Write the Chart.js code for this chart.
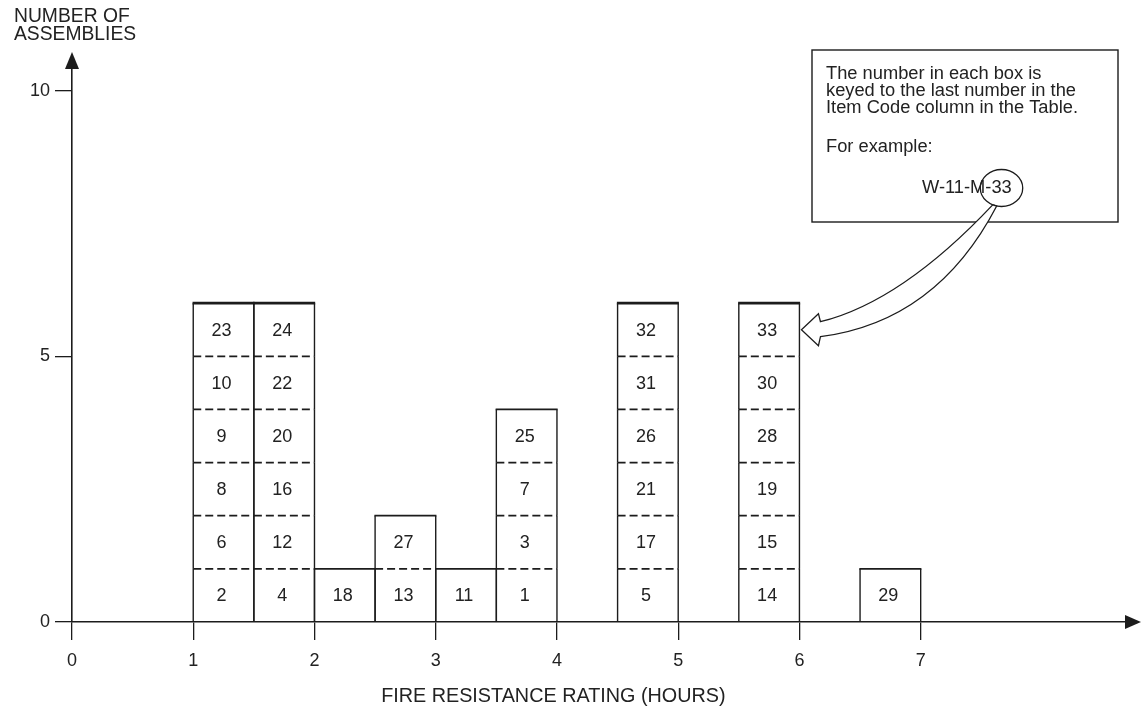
<!DOCTYPE html>
<html>
<head>
<meta charset="utf-8">
<script src="https://cdn.jsdelivr.net/npm/chart.js@4.4.1/dist/chart.umd.min.js"></script>
<style>
  html, body { margin: 0; padding: 0; background: #ffffff; }
  #wrap { width: 1141px; height: 711px; position: relative; }
</style>
</head>
<body>
<div id="wrap"><canvas id="c" width="1141" height="711"></canvas></div>
<script>
// ---- data ----
const binStarts = [1, 1.5, 2, 2.5, 3, 3.5, 4.5, 5.5, 6.5];
const binWidth = 0.5;
const itemCodes = [
  [2, 6, 8, 9, 10, 23],
  [4, 12, 16, 20, 22, 24],
  [18],
  [13, 27],
  [11],
  [1, 3, 7, 25],
  [5, 17, 21, 26, 31, 32],
  [14, 15, 19, 28, 30, 33],
  [29]
];
const xTickValues = [0, 1, 2, 3, 4, 5, 6, 7];
const yTickValues = [0, 5, 10];
const xTitle = 'FIRE RESISTANCE RATING (HOURS)';
const yTitle = ['NUMBER OF', 'ASSEMBLIES'];
const noteLines = ['The number in each box is', 'keyed to the last number in the', 'Item Code column in the Table.'];
const noteExampleLabel = 'For example:';
const noteExamplePrefix = 'W-11-M';
const noteExampleSuffix = '-33';
const pointedCode = 33;

// ---- build datasets (one per stack level) ----
const FONT = '"Liberation Sans", Arial, Helvetica, sans-serif';
const INK = '#1c1c1c';
const maxLevels = Math.max(...itemCodes.map(c => c.length));
const datasets = [];
for (let L = 0; L < maxLevels; L++) {
  const data = [];
  binStarts.forEach((s, i) => {
    const codes = itemCodes[i];
    if (codes.length > L) {
      data.push({ x: s + binWidth / 2, y: 1, code: codes[L], level: L, top: L === codes.length - 1, height: codes.length });
    }
  });
  datasets.push({
    label: 'level ' + (L + 1),
    data,
    backgroundColor: 'rgba(255,255,255,0)',
    borderWidth: 0,
    stack: 'assemblies',
    categoryPercentage: 1,
    barPercentage: 1
  });
}

function seg(ctx, x1, y1, x2, y2) {
  ctx.beginPath(); ctx.moveTo(x1, y1); ctx.lineTo(x2, y2); ctx.stroke();
}

const boxPlugin = {
  id: 'boxes',
  afterDatasetsDraw(chart) {
    const ctx = chart.ctx;
    ctx.save();
    ctx.strokeStyle = INK;
    chart.data.datasets.forEach((ds, di) => {
      const meta = chart.getDatasetMeta(di);
      meta.data.forEach((el, i) => {
        const raw = ds.data[i];
        const p = el.getProps(['x', 'y', 'base', 'width'], true);
        const l = p.x - p.width / 2, r = p.x + p.width / 2;
        const top = Math.min(p.y, p.base), bot = Math.max(p.y, p.base);
        ctx.setLineDash([]);
        ctx.lineWidth = 1.4;
        seg(ctx, l, bot, l, top);
        seg(ctx, r, bot, r, top);
        if (raw.level > 0) {
          ctx.setLineDash([8, 4]);
          ctx.lineWidth = 1.8;
          seg(ctx, l, bot, r, bot);
          ctx.setLineDash([]);
        }
        if (raw.top) {
          ctx.lineWidth = raw.height >= 6 ? 2.6 : 1.7;
          seg(ctx, l - 0.7, top, r + 0.7, top);
        }
        ctx.fillStyle = '#222';
        ctx.font = '18px ' + FONT;
        ctx.textAlign = 'center';
        ctx.textBaseline = 'middle';
        ctx.fillText(String(raw.code), p.x - 2, (top + bot) / 2 + 1);
      });
    });
    ctx.restore();
  },
  afterDraw(chart) {
    const ctx = chart.ctx;
    const area = chart.chartArea;
    const xs = chart.scales.x, ys = chart.scales.y;
    const ax = xs.getPixelForValue(0), ay = ys.getPixelForValue(0);
    ctx.save();
    ctx.fillStyle = INK;
    // axis arrowheads
    ctx.beginPath();
    ctx.moveTo(ax, area.top - 12);
    ctx.lineTo(ax - 7, area.top + 5);
    ctx.lineTo(ax + 7, area.top + 5);
    ctx.closePath(); ctx.fill();
    ctx.beginPath();
    ctx.moveTo(area.right + 13, ay);
    ctx.lineTo(area.right - 3, ay - 7);
    ctx.lineTo(area.right - 3, ay + 7);
    ctx.closePath(); ctx.fill();

    // axis titles
    ctx.fillStyle = '#222';
    ctx.font = '19.3px ' + FONT;
    ctx.textAlign = 'left';
    ctx.textBaseline = 'middle';
    ctx.fillText(yTitle[0], 14, 17);
    ctx.fillText(yTitle[1], 14, 35);
    ctx.font = '19.8px ' + FONT;
    ctx.textAlign = 'center';
    ctx.fillText(xTitle, xs.getPixelForValue(3.97), 697);

    // note box
    ctx.strokeStyle = INK;
    ctx.lineWidth = 1.4;
    ctx.strokeRect(812, 50, 306, 172);
    ctx.font = '18.3px ' + FONT;
    ctx.textAlign = 'left';
    ctx.fillText(noteLines[0], 826, 74);
    ctx.fillText(noteLines[1], 826, 91);
    ctx.fillText(noteLines[2], 826, 108);
    ctx.fillText(noteExampleLabel, 826, 147);
    const exX = 922, exY = 188;
    ctx.fillText(noteExamplePrefix + noteExampleSuffix, exX, exY);
    const preW = ctx.measureText(noteExamplePrefix).width;
    const sufW = ctx.measureText(noteExampleSuffix).width;

    // ellipse around the last number
    const cx = exX + preW + sufW / 2 + 3, cy = exY, rx = sufW / 2 + 8, ry = 18.5;
    ctx.lineWidth = 1.3;
    ctx.beginPath();
    ctx.ellipse(cx, cy, rx, ry, 0, 0, Math.PI * 2);
    ctx.stroke();

    // curved hollow arrow to the box holding the pointed code
    let target = null;
    chart.data.datasets.forEach((ds, di) => {
      ds.data.forEach((d, i) => {
        if (d.code === pointedCode) target = chart.getDatasetMeta(di).data[i];
      });
    });
    if (target) {
      const p = target.getProps(['x', 'y', 'base', 'width'], true);
      const tx = p.x + p.width / 2 + 2;
      const ty = (p.y + p.base) / 2;
      const s1x = cx + rx * Math.cos(2.0), s1y = cy + ry * Math.sin(2.0);
      const s2x = cx + rx * Math.cos(1.8), s2y = cy + ry * Math.sin(1.8);
      ctx.beginPath();
      ctx.moveTo(tx + 19, ty - 8);
      ctx.quadraticCurveTo(tx + 100, ty - 28, s1x, s1y);
      ctx.lineTo(s2x, s2y);
      ctx.quadraticCurveTo(tx + 135, ty - 8, tx + 19, ty + 7);
      ctx.lineTo(tx + 17, ty + 16);
      ctx.lineTo(tx, ty);
      ctx.lineTo(tx + 17, ty - 16);
      ctx.closePath();
      ctx.fillStyle = '#ffffff';
      ctx.fill();
      ctx.strokeStyle = INK;
      ctx.lineWidth = 1.3;
      ctx.stroke();
    }
    ctx.restore();
  }
};

new Chart(document.getElementById('c'), {
  type: 'bar',
  data: { datasets },
  options: {
    responsive: false,
    devicePixelRatio: 1,
    animation: false,
    events: [],
    layout: { padding: { top: 64, right: 13, left: 0, bottom: 0 } },
    plugins: { legend: { display: false }, tooltip: { enabled: false }, title: { display: false } },
    scales: {
      x: {
        type: 'linear',
        min: 0,
        max: 8.71,
        stacked: true,
        offset: false,
        afterBuildTicks: s => { s.ticks = xTickValues.map(v => ({ value: v })); },
        afterFit: s => { s.height = 89; },
        grid: { display: true, offset: false, drawOnChartArea: false, drawTicks: true, tickLength: 18, color: INK, lineWidth: 1.3 },
        border: { display: true, color: INK, width: 1.6 },
        ticks: { color: '#222', font: { family: FONT, size: 18 }, padding: 10, autoSkip: false, maxRotation: 0, callback: v => String(v) }
      },
      y: {
        type: 'linear',
        min: 0,
        max: 10.5,
        stacked: true,
        afterBuildTicks: s => { s.ticks = yTickValues.map(v => ({ value: v })); },
        afterFit: s => { s.width = 72; },
        grid: { display: true, drawOnChartArea: false, drawTicks: true, tickLength: 17, color: INK, lineWidth: 1.3 },
        border: { display: true, color: INK, width: 1.6 },
        ticks: { color: '#222', font: { family: FONT, size: 18 }, padding: 5, autoSkip: false, callback: v => String(v) }
      }
    }
  },
  plugins: [boxPlugin]
});
</script>
</body>
</html>
